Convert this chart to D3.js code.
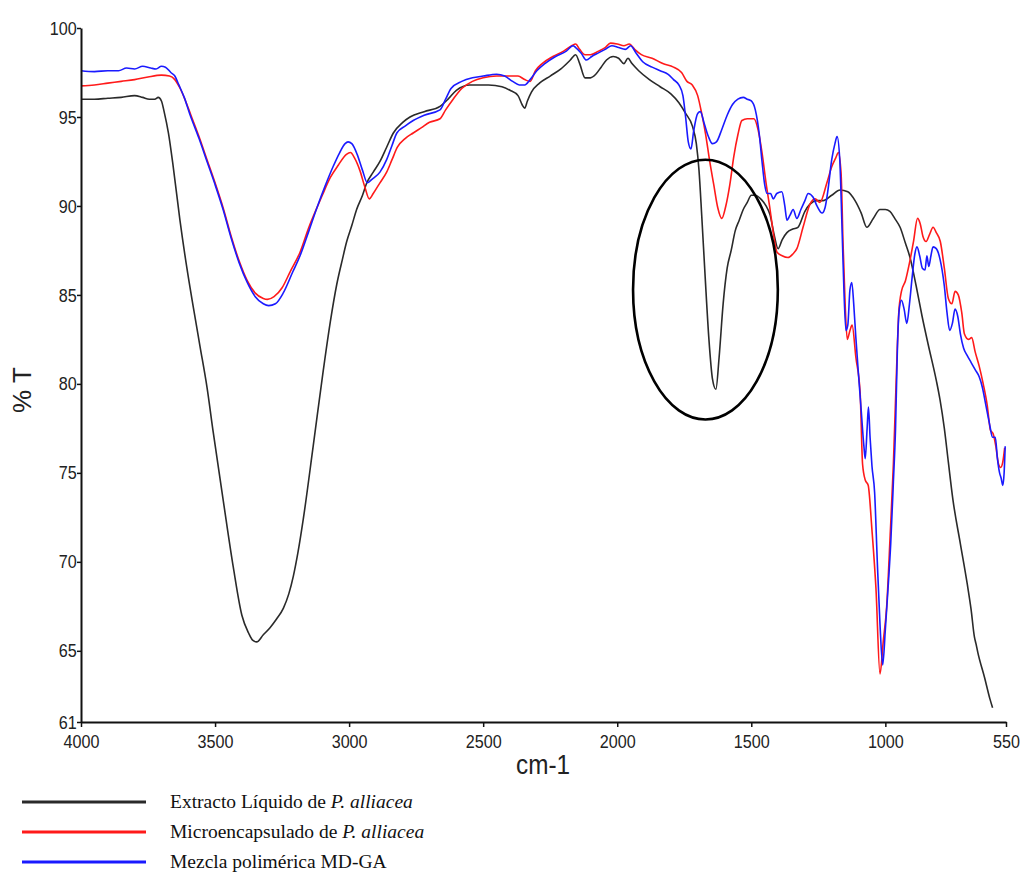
<!DOCTYPE html>
<html lang="es">
<head>
    <meta charset="UTF-8">
    <title>Espectro FTIR</title>
    <script src="https://d3js.org/d3.v7.min.js"></script>
    <style>
        body { margin: 0; background: #fff; }
        .tick text { font-family: "Liberation Sans Narrow", "Arial Narrow", "Liberation Sans", sans-serif; font-size: 19px; fill: #222; }
        .legend text { font-family: "Liberation Serif", "Times New Roman", serif; font-size: 19.5px; fill: #111; }
    </style>
</head>
<body>
<svg id="chart" width="1025" height="872"></svg>

<script>
    // axis ticks
    const xTicks = [4000, 3500, 3000, 2500, 2000, 1500, 1000, 550];
    const yTicks = [100, 95, 90, 85, 80, 75, 70, 65, 61];

    // Extracto Liquido de P. alliacea  [cm-1, %T]
    const extractoData = [
        [4000, 96.0], [3950, 96.0], [3900, 96.05], [3850, 96.1], [3800, 96.2], [3770, 96.1],
        [3745, 96.0], [3725, 96.0], [3712, 96.1], [3700, 95.9], [3690, 95.3], [3674, 94.1],
        [3656, 92.2], [3631, 89.2], [3606, 86.6], [3581, 84.3], [3556, 82.1], [3530, 79.8],
        [3507, 77.3], [3469, 73.4], [3432, 69.7], [3400, 67.0], [3375, 66.0], [3360, 65.6],
        [3345, 65.5], [3320, 65.9], [3295, 66.3], [3270, 66.8], [3245, 67.4], [3225, 68.2],
        [3208, 69.2], [3190, 70.6], [3171, 72.4], [3134, 76.5], [3096, 80.8], [3070, 83.5],
        [3046, 85.6], [3025, 87.0], [3009, 88.0], [2990, 88.9], [2972, 89.8], [2950, 90.6],
        [2934, 91.3], [2910, 91.9], [2885, 92.5], [2860, 93.3], [2835, 94.1], [2800, 94.7],
        [2773, 95.0], [2720, 95.3], [2661, 95.6], [2631, 96.0], [2600, 96.5], [2550, 96.8],
        [2480, 96.8], [2430, 96.7], [2400, 96.5], [2370, 96.2], [2355, 95.7], [2345, 95.5],
        [2335, 95.9], [2320, 96.4], [2290, 96.9], [2250, 97.3], [2210, 97.7], [2175, 98.2],
        [2155, 98.5], [2140, 98.0], [2120, 97.2], [2100, 97.2], [2080, 97.4], [2060, 97.8],
        [2040, 98.2], [2015, 98.4], [1995, 98.3], [1975, 98.0], [1960, 98.3], [1945, 98.0],
        [1920, 97.6], [1880, 97.1], [1840, 96.7], [1800, 96.3], [1770, 95.8], [1745, 95.2],
        [1720, 94.5], [1705, 93.5], [1695, 92.0], [1685, 89.5], [1672, 86.0], [1658, 82.5],
        [1645, 80.3], [1632, 79.7], [1620, 81.5], [1605, 84.5], [1590, 86.5], [1575, 87.5],
        [1560, 88.6], [1545, 89.2], [1530, 89.8], [1515, 90.2], [1500, 90.6], [1485, 90.6],
        [1465, 90.4], [1445, 90.0], [1430, 89.5], [1415, 88.4], [1400, 87.6], [1385, 88.1],
        [1367, 88.5], [1345, 88.7], [1326, 88.8], [1300, 89.7], [1281, 90.1], [1255, 90.3],
        [1232, 90.3], [1200, 90.6], [1169, 90.9], [1140, 90.8], [1113, 90.3], [1090, 89.6],
        [1069, 88.8], [1045, 89.3], [1020, 89.8], [1000, 89.8], [983, 89.7], [965, 89.3],
        [945, 88.8], [925, 87.9], [908, 87.1], [885, 85.5], [863, 83.8], [840, 82.2],
        [810, 80.2], [796, 79.1], [780, 77.5], [765, 75.6], [748, 73.5], [720, 71.0],
        [695, 68.8], [680, 67.3], [668, 65.8], [662, 65.4], [655, 64.9], [630, 63.5],
        [610, 62.3], [600, 61.8]
    ];

    // Microencapsulado de P. alliacea
    const microData = [
        [4000, 96.75], [3950, 96.8], [3900, 96.9], [3850, 97.0], [3800, 97.1], [3750, 97.25],
        [3700, 97.35], [3670, 97.3], [3650, 97.1], [3630, 96.6], [3610, 95.9], [3590, 95.1],
        [3560, 93.9], [3530, 92.6], [3500, 91.3], [3470, 89.9], [3440, 88.3], [3410, 86.9],
        [3380, 85.8], [3350, 85.1], [3320, 84.8], [3305, 84.75], [3280, 84.9], [3250, 85.4],
        [3220, 86.3], [3183, 87.4], [3150, 88.8], [3120, 89.9], [3100, 90.6], [3070, 91.6],
        [3040, 92.3], [3010, 92.9], [2995, 93.0], [2980, 92.7], [2960, 92.0], [2940, 91.0],
        [2925, 90.4], [2910, 90.7], [2885, 91.3], [2860, 91.9], [2840, 92.6], [2820, 93.3],
        [2790, 93.8], [2761, 94.1], [2730, 94.4], [2700, 94.7], [2661, 94.9], [2640, 95.4],
        [2612, 96.0], [2580, 96.6], [2540, 97.0], [2500, 97.2], [2450, 97.3], [2400, 97.3],
        [2370, 97.3], [2345, 97.1], [2325, 97.0], [2305, 97.6], [2280, 98.0], [2240, 98.4],
        [2200, 98.7], [2170, 99.0], [2155, 99.1], [2140, 98.8], [2120, 98.5], [2100, 98.5],
        [2070, 98.7], [2045, 98.9], [2025, 99.15], [2000, 99.1], [1975, 99.0], [1955, 99.1],
        [1935, 98.8], [1910, 98.5], [1870, 98.3], [1830, 98.0], [1790, 97.8], [1760, 97.5],
        [1740, 97.0], [1720, 96.8], [1700, 96.2], [1685, 95.2], [1670, 94.0], [1655, 92.5],
        [1640, 91.2], [1625, 89.9], [1610, 89.3], [1595, 90.0], [1580, 91.2], [1565, 92.8],
        [1550, 94.0], [1535, 94.8], [1515, 94.9], [1490, 94.9], [1475, 94.3], [1460, 93.0],
        [1445, 91.3], [1430, 89.8], [1415, 88.2], [1404, 87.4], [1385, 87.2], [1363, 87.1],
        [1345, 87.3], [1330, 87.6], [1307, 88.8], [1281, 90.1], [1262, 90.4], [1244, 90.2],
        [1218, 91.3], [1200, 92.2], [1185, 92.7], [1175, 93.0], [1165, 91.8], [1158, 88.0],
        [1150, 84.5], [1142, 82.5], [1132, 83.0], [1124, 83.3], [1110, 81.5], [1094, 79.5],
        [1085, 75.5], [1075, 74.6], [1064, 74.3], [1050, 71.8], [1035, 68.5], [1020, 63.7],
        [1008, 65.5], [995, 67.5], [982, 71.5], [970, 75.5], [960, 80.0], [950, 84.0],
        [940, 85.2], [925, 85.8], [910, 86.8], [895, 88.0], [880, 89.3], [870, 89.0],
        [860, 88.3], [848, 88.0], [835, 88.4], [822, 88.8], [810, 88.5], [795, 88.0],
        [780, 86.5], [765, 84.8], [752, 84.5], [740, 85.2], [728, 85.0], [715, 84.0],
        [705, 82.8], [690, 82.5], [678, 82.6], [665, 81.8], [650, 81.0], [635, 80.0],
        [620, 78.8], [608, 77.4], [598, 77.2], [588, 76.5], [578, 75.5], [570, 75.3],
        [562, 75.6], [555, 76.4]
    ];

    // Mezcla polimerica MD-GA
    const mezclaData = [
        [4000, 97.6], [3950, 97.55], [3900, 97.6], [3860, 97.6], [3830, 97.75], [3800, 97.7],
        [3770, 97.85], [3740, 97.75], [3720, 97.7], [3700, 97.85], [3685, 97.8], [3665, 97.5],
        [3650, 97.3], [3635, 96.8], [3615, 96.1], [3595, 95.2], [3560, 93.8], [3530, 92.5],
        [3500, 91.2], [3470, 89.8], [3440, 88.2], [3410, 86.8], [3380, 85.7], [3350, 84.9],
        [3320, 84.5], [3300, 84.4], [3275, 84.5], [3246, 85.1], [3210, 86.3], [3183, 87.2],
        [3150, 88.6], [3120, 89.9], [3090, 91.1], [3060, 92.2], [3035, 93.0], [3015, 93.5],
        [3004, 93.6], [2990, 93.5], [2970, 92.9], [2950, 92.0], [2932, 91.3], [2915, 91.5],
        [2885, 91.9], [2860, 92.6], [2840, 93.4], [2822, 94.1], [2790, 94.5], [2761, 94.8],
        [2720, 95.1], [2661, 95.4], [2640, 96.0], [2620, 96.6], [2580, 97.0], [2540, 97.2],
        [2500, 97.3], [2450, 97.4], [2420, 97.3], [2390, 97.0], [2365, 96.8], [2345, 96.8],
        [2325, 97.1], [2300, 97.6], [2270, 98.0], [2230, 98.4], [2190, 98.7], [2165, 99.0],
        [2155, 98.9], [2135, 98.6], [2115, 98.2], [2095, 98.4], [2070, 98.6], [2045, 98.8],
        [2020, 99.0], [1995, 98.9], [1970, 98.8], [1950, 99.0], [1930, 98.6], [1905, 98.1],
        [1870, 97.8], [1840, 97.6], [1810, 97.4], [1790, 97.1], [1770, 96.8], [1755, 96.2],
        [1745, 95.0], [1735, 93.6], [1725, 93.2], [1715, 94.2], [1700, 95.2], [1690, 95.3],
        [1675, 94.6], [1660, 93.9], [1645, 93.5], [1630, 93.6], [1610, 94.3], [1590, 95.1],
        [1570, 95.7], [1550, 96.0], [1530, 96.1], [1515, 96.0], [1500, 95.9], [1485, 95.4],
        [1470, 94.0], [1460, 92.5], [1450, 91.2], [1441, 90.7], [1428, 90.7], [1418, 90.4],
        [1405, 90.7], [1386, 90.8], [1375, 90.0], [1367, 89.2], [1355, 89.5], [1344, 89.8],
        [1330, 89.3], [1315, 89.8], [1300, 90.3], [1288, 90.7], [1270, 90.5], [1255, 90.0],
        [1236, 89.6], [1225, 89.9], [1214, 90.9], [1200, 92.6], [1188, 93.5], [1180, 93.9],
        [1170, 92.6], [1162, 89.0], [1155, 85.5], [1147, 83.0], [1140, 83.3], [1132, 85.3],
        [1125, 85.7], [1118, 84.5], [1110, 82.6], [1100, 80.5], [1090, 78.5], [1080, 76.5],
        [1075, 75.8], [1068, 77.5], [1063, 78.7], [1057, 77.0], [1050, 75.4], [1040, 73.9],
        [1030, 70.0], [1020, 66.5], [1010, 64.2], [1000, 66.2], [990, 68.5], [980, 71.0],
        [970, 74.5], [962, 77.5], [955, 82.0], [948, 84.2], [940, 84.7], [930, 84.2],
        [920, 83.4], [910, 84.5], [900, 86.0], [890, 87.3], [882, 87.7], [872, 87.2],
        [862, 86.5], [852, 86.4], [845, 87.2], [838, 86.6], [830, 87.2], [822, 87.7],
        [810, 87.6], [796, 87.0], [780, 85.5], [770, 84.0], [760, 83.0], [750, 83.4],
        [740, 84.2], [730, 83.8], [720, 82.8], [708, 82.0], [695, 81.6], [680, 81.2],
        [665, 80.8], [650, 80.4], [638, 79.8], [625, 78.8], [612, 77.8], [600, 77.0],
        [590, 77.0], [582, 75.8], [574, 75.0], [568, 74.7], [562, 74.3], [557, 75.0],
        [553, 76.5]
    ];

    const seriesColors = ["#2a2a2a", "#ff1a1a", "#1a1aff"];
    const legendLabels = [
        ["Extracto Líquido de ", "P. alliacea"],
        ["Microencapsulado de ", "P. alliacea"],
        ["Mezcla polimérica MD-GA", ""]
    ];

    // highlighted band (center in cm-1 / %T, half widths)
    const highlightCenter = [1671, 85.3];
    const highlightRadii = [270, 7.3];

    const svg = d3.select("#chart");

    const x = d3.scaleLinear().domain([4000, 550]).range([81, 1006]);
    const y = d3.scaleLinear().domain([61, 100]).range([722, 28]);

    // spectra
    const line = d3.line()
        .x(d => x(d[0]))
        .y(d => y(d[1]))
        .curve(d3.curveMonotoneX);

    [extractoData, microData, mezclaData].forEach((data, i) => {
        svg.append("path")
            .datum(data)
            .attr("fill", "none")
            .attr("stroke", seriesColors[i])
            .attr("stroke-width", 1.6)
            .attr("stroke-linejoin", "round")
            .attr("d", line);
    });

    // ellipse around the 1630 band
    svg.append("ellipse")
        .attr("cx", x(highlightCenter[0]))
        .attr("cy", y(highlightCenter[1]))
        .attr("rx", Math.abs(x(highlightCenter[0] - highlightRadii[0]) - x(highlightCenter[0])))
        .attr("ry", Math.abs(y(highlightCenter[1] - highlightRadii[1]) - y(highlightCenter[1])))
        .attr("fill", "none")
        .attr("stroke", "#000")
        .attr("stroke-width", 2.6);

    // axes
    svg.append("g")
        .attr("transform", "translate(0,722)")
        .call(d3.axisBottom(x).tickValues(xTicks).tickFormat(d3.format("d")).tickSize(5).tickSizeOuter(0).tickPadding(8));

    svg.append("g")
        .attr("transform", "translate(81,0)")
        .call(d3.axisLeft(y).tickValues(yTicks).tickFormat(d3.format("d")).tickSize(4).tickSizeOuter(0).tickPadding(1));

    svg.selectAll(".domain").attr("stroke", "#111").attr("stroke-width", 2);
    svg.selectAll(".tick line").attr("stroke", "#111").attr("stroke-width", 1.5);
    // narrow look of the original tick font
    svg.selectAll(".tick text").attr("transform", "scale(0.85,1)");

    // axis titles
    svg.append("text")
        .attr("transform", "translate(543,774) scale(0.9,1)")
        .attr("text-anchor", "middle")
        .attr("font-family", "'Liberation Sans Narrow', 'Arial Narrow', 'Liberation Sans', sans-serif")
        .attr("font-size", "27px")
        .attr("fill", "#222")
        .text("cm-1");

    svg.append("text")
        .attr("transform", "translate(31,390) rotate(-90)")
        .attr("text-anchor", "middle")
        .attr("font-family", "'Liberation Sans Narrow', 'Arial Narrow', 'Liberation Sans', sans-serif")
        .attr("font-size", "26px")
        .attr("fill", "#222")
        .text("% T");

    // legend
    const legend = svg.append("g").attr("class", "legend");
    legendLabels.forEach((lab, i) => {
        const ly = 802 + i * 30;
        legend.append("line")
            .attr("x1", 22).attr("x2", 146)
            .attr("y1", ly).attr("y2", ly)
            .attr("stroke", seriesColors[i])
            .attr("stroke-width", 3);
        const t = legend.append("text")
            .attr("x", 170)
            .attr("y", ly + 6);
        t.append("tspan").text(lab[0]);
        if (lab[1]) t.append("tspan").attr("font-style", "italic").text(lab[1]);
    });
</script>
</body>
</html>
